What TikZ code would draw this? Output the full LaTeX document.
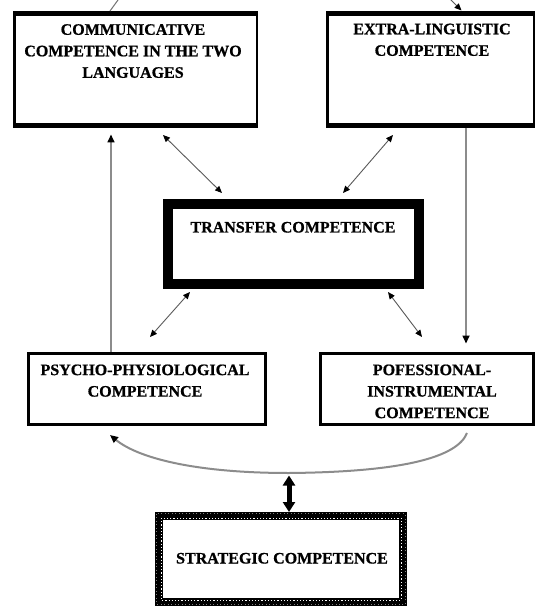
\documentclass[tikz,border=0pt]{standalone}
\usepackage{fontspec}
\setmainfont{Liberation Serif}
\newfontfamily\boxfont{Liberation Serif}[UprightFont=*,BoldFont=* Bold,BoldFeatures={FakeBold=0.8}]
\usetikzlibrary{calc,arrows.meta}
\begin{document}
\begin{tikzpicture}[x=1pt,y=-1pt,
  box/.style={draw=black,rectangle,outer sep=0pt,inner sep=0pt},
  lbl/.style={anchor=north,inner sep=0pt,align=center,text=black,
    font=\boxfont\bfseries\fontsize{16}{21.5}\selectfont},
  thin2/.style={draw=black!65,line width=0.9pt,
    {Triangle[length=7pt,width=6pt,black]}-{Triangle[length=7pt,width=6pt,black]}},
  grayline/.style={draw=black!45,line width=1.6pt,-{Triangle[length=8pt,width=7pt,black]}},
]
\useasboundingbox (0,0) rectangle (535,609);
\fill[white] (0,0) rectangle (535,609);

% boxes
\node[box,line width=2.5pt,minimum width=242.5pt,minimum height=112pt] (comm) at (135.5,69.5) {};
\node[box,line width=2.5pt,minimum width=206.5pt,minimum height=112pt] (extra) at (430.5,69.5) {};
\node[box,line width=10pt,minimum width=251pt,minimum height=80pt] (trans) at (293.5,244) {};
\node[box,line width=3pt,minimum width=237pt,minimum height=71pt] (psy) at (147,389) {};
\node[box,line width=3pt,minimum width=213pt,minimum height=71pt] (prof) at (427,389) {};
\node[box,line width=8pt,minimum width=244pt,minimum height=86pt] (strat) at (281,559) {};

% thicker top/bottom of the top boxes
\draw[line width=5pt] ($(comm.north west)+(-1.25,0)$) -- ($(comm.north east)+(1.25,0)$);
\draw[line width=5pt] ($(comm.south west)+(-1.25,0)$) -- ($(comm.south east)+(1.25,0)$);
\draw[line width=5pt] ($(extra.north west)+(-1.25,0)$) -- ($(extra.north east)+(1.25,0)$);
\draw[line width=5pt] ($(extra.south west)+(-1.25,0)$) -- ($(extra.south east)+(1.25,0)$);

% textured border of strategic box
\draw[white,line width=0.9pt,dash pattern=on 1.2pt off 2pt]
  ($(strat.north west)+(2,2)$) rectangle ($(strat.south east)+(-2,-2)$);
\draw[black!50,line width=0.7pt,dash pattern=on 1pt off 2.5pt]
  ($(strat.north west)+(-2.2,-2.2)$) rectangle ($(strat.south east)+(2.2,2.2)$);

% labels
\node[lbl] (tcomm) at ($(comm.north)+(-2.5,10.5)$) {COMMUNICATIVE\\COMPETENCE IN THE TWO\\LANGUAGES};
\node[lbl] (textra) at ($(extra.north)+(1.5,10)$) {EXTRA-LINGUISTIC\\COMPETENCE};
\node[lbl] (ttrans) at ($(trans.north)+(-0.5,17.7)$) {TRANSFER COMPETENCE};
\node[lbl] (tpsy) at ($(psy.north)+(-2,10.8)$) {PSYCHO-PHYSIOLOGICAL\\COMPETENCE};
\node[lbl] (tprof) at ($(prof.north)+(5,10.8)$) {POFESSIONAL-\\INSTRUMENTAL\\COMPETENCE};
\node[lbl] (tstrat) at ($(strat.north)+(1,36.7)$) {STRATEGIC COMPETENCE};

% thin double arrows
\draw[thin2] ($(comm.south)+(27.5,9.5)$) -- ($(trans.north)+(-71.5,-11)$);
\draw[thin2] ($(extra.south)+(-37.5,9.5)$) -- ($(trans.north)+(49.5,-11)$);
\draw[thin2] ($(trans.south)+(-103.5,8)$) -- ($(psy.north)+(3,-16.5)$);
\draw[thin2] ($(trans.south)+(94.5,8)$) -- ($(prof.north)+(-5,-16.5)$);

% vertical gray lines
\draw[grayline] ($(psy.north)+(-36,-1.5)$) -- ($(comm.south)+(-24.5,9)$);
\draw[grayline] ($(extra.south)+(35.5,2.5)$) -- ($(prof.north)+(39,-10)$);

% curve from professional to psycho
\coordinate (cb) at ($(strat.north)+(8,-43)$);
\draw[draw=black!45,line width=2pt,-{Triangle[length=8pt,width=7pt,black]}]
  ($(prof.south)+(40,8.5)$) .. controls (457,458) and (400,472) .. (cb)
  .. controls (195,473) and (138,458) .. ($(psy.south)+(-37,10.5)$);

% thick double arrow to strategic
\draw[line width=5pt,{Triangle[length=10pt,width=12pt]}-{Triangle[length=10pt,width=12pt]}]
  ($(cb)+(0,2.5)$) -- ($(strat.north)+(8,-4)$);

% cut-off connectors entering from the top
\coordinate (tl) at (118,0);
\coordinate (tr) at (450,-1);
\draw[draw=black!55,line width=1pt] (tl) -- ($(comm.north)+(-25.5,-2.5)$);
\draw[draw=black!65,line width=0.9pt,-{Triangle[length=7pt,width=6pt,black]}] (tr) -- ($(extra.north)+(31,-3)$);
\end{tikzpicture}
\end{document}
